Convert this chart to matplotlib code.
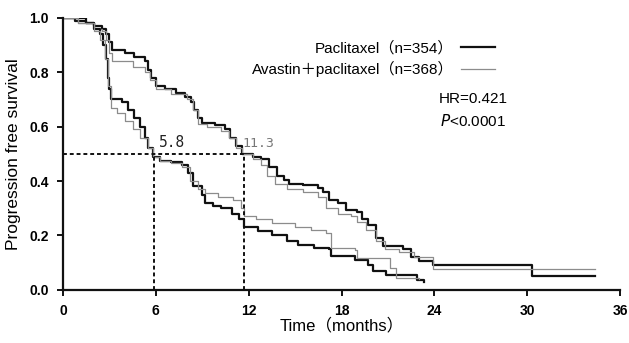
import matplotlib
matplotlib.use("Agg")
import matplotlib.pyplot as plt
from matplotlib.font_manager import FontProperties

# step curves (months, survival)
pac_t = [0, 0.8, 1.5, 2.0, 2.5, 2.8, 3.0, 3.2, 4.0, 4.6, 5.3, 5.5, 5.7, 6.0, 6.6, 7.3, 7.9,
         8.3, 8.5, 8.7, 9.0, 9.8, 10.5, 10.8, 11.2, 11.6, 12.3, 12.8, 13.3, 13.8, 14.3, 14.6,
         15.5, 16.5, 16.8, 17.2, 17.8, 18.3, 19.0, 19.3, 19.7, 20.2, 20.7, 22.0, 22.5, 23.0,
         23.9, 30.3, 34.4]
pac_s = [1.0, 0.99, 0.98, 0.97, 0.96, 0.94, 0.91, 0.88, 0.87, 0.855, 0.84, 0.81, 0.78, 0.75,
         0.74, 0.725, 0.71, 0.69, 0.66, 0.63, 0.615, 0.605, 0.59, 0.56, 0.53, 0.50, 0.49, 0.48,
         0.45, 0.42, 0.405, 0.39, 0.385, 0.375, 0.36, 0.33, 0.32, 0.295, 0.285, 0.26, 0.24,
         0.19, 0.16, 0.15, 0.12, 0.105, 0.09, 0.05, 0.05]

ava_t = [0, 1.0, 2.0, 2.5, 2.8, 3.0, 3.2, 4.5, 5.3, 5.6, 6.0, 7.0, 8.0, 8.4, 8.7, 9.3, 10.2,
         10.7, 11.2, 11.6, 12.3, 12.8, 13.2, 13.7, 14.5, 15.5, 16.5, 17.0, 17.8, 18.6, 19.0,
         19.6, 20.2, 20.8, 21.7, 22.7, 23.9, 34.4]
ava_s = [1.0, 0.98, 0.96, 0.95, 0.92, 0.87, 0.84, 0.82, 0.80, 0.77, 0.74, 0.72, 0.70, 0.66,
         0.61, 0.60, 0.585, 0.56, 0.52, 0.50, 0.48, 0.46, 0.42, 0.39, 0.37, 0.36, 0.34, 0.30,
         0.28, 0.27, 0.25, 0.22, 0.18, 0.15, 0.14, 0.12, 0.077, 0.077]

pac2_t = [0, 1.5, 2.0, 2.4, 2.6, 2.8, 2.9, 3.0, 3.1, 3.8, 4.2, 4.6, 5.0, 5.3, 5.5, 5.8, 6.3,
          7.0, 7.7, 8.1, 8.4, 9.0, 9.2, 9.7, 10.2, 10.9, 11.4, 11.7, 12.6, 13.5, 14.5, 15.2,
          16.2, 17.2, 17.3, 18.9, 19.7, 20.0, 20.9, 22.9, 23.3]
pac2_s = [1.0, 0.98, 0.96, 0.94, 0.90, 0.85, 0.78, 0.74, 0.70, 0.69, 0.66, 0.63, 0.60, 0.56,
          0.52, 0.49, 0.475, 0.47, 0.46, 0.43, 0.38, 0.35, 0.32, 0.31, 0.30, 0.28, 0.26, 0.23,
          0.215, 0.20, 0.18, 0.165, 0.155, 0.15, 0.125, 0.11, 0.09, 0.07, 0.055, 0.037, 0.03]

ava2_t = [0, 1.0, 2.0, 2.4, 2.7, 2.9, 3.1, 3.5, 4.0, 4.5, 5.0, 5.5, 5.8, 6.3, 7.0, 7.7, 8.2,
          8.7, 9.2, 10.0, 11.0, 11.5, 11.7, 12.5, 13.5, 15.0, 16.0, 17.0, 17.3, 18.9, 19.0,
          21.0, 21.1, 21.5, 23.0]
ava2_s = [1.0, 0.98, 0.95, 0.92, 0.85, 0.75, 0.67, 0.65, 0.62, 0.59, 0.56, 0.52, 0.49, 0.475,
          0.465, 0.45, 0.40, 0.37, 0.355, 0.34, 0.33, 0.30, 0.27, 0.26, 0.245, 0.23, 0.22,
          0.21, 0.155, 0.147, 0.118, 0.118, 0.08, 0.045, 0.04]

medians = [5.9, 11.7]
median_labels = ["5.8", "11.3"]
legend_labels = ["Paclitaxel（n=354）", "Avastin＋paclitaxel（n=368）"]
x_ticks = [0, 6, 12, 18, 24, 30, 36]
y_ticks = [0.0, 0.2, 0.4, 0.6, 0.8, 1.0]

BLACK = "#111111"
GRAY = "#8c8c8c"
fams = ["Liberation Sans", "Noto Sans CJK JP"]

fig = plt.figure(figsize=(6.29, 3.43), dpi=100)
ax = fig.add_axes([0.100, 0.155, 0.886, 0.793])

l1, = ax.plot(pac_t, pac_s, drawstyle="steps-post", color=BLACK, lw=1.6)
l2, = ax.plot(ava_t, ava_s, drawstyle="steps-post", color=GRAY, lw=0.9)
ax.plot(pac2_t, pac2_s, drawstyle="steps-post", color=BLACK, lw=1.6)
ax.plot(ava2_t, ava2_s, drawstyle="steps-post", color=GRAY, lw=0.9)

# median guides
ax.plot([0, medians[1]], [0.5, 0.5], color=BLACK, lw=1.4, ls=(0, (2, 1.5)))
for m in medians:
    ax.plot([m, m], [0, 0.5], color=BLACK, lw=1.4, ls=(0, (2, 1.5)))
ax.text(medians[0] + 0.3, 0.515, median_labels[0], fontsize=10.5, color="#222222",
        family="DejaVu Sans Mono", ha="left", va="bottom")
ax.text(medians[1] - 0.1, 0.515, median_labels[1], fontsize=9.5, color="#777777",
        family="DejaVu Sans Mono", ha="left", va="bottom")

ax.set_xlim(0, 36)
ax.set_ylim(0, 1.0)
ax.set_xticks(x_ticks)
ax.set_yticks(y_ticks)
ax.set_xticklabels([str(v) for v in x_ticks], fontweight="bold", fontsize=10,
                   family="Liberation Sans")
ax.set_yticklabels([f"{v:.1f}" for v in y_ticks], fontweight="bold", fontsize=10,
                   family="Liberation Sans")
for s in ["top", "right"]:
    ax.spines[s].set_visible(False)
for s in ["left", "bottom"]:
    ax.spines[s].set_linewidth(1.6)
    ax.spines[s].set_color(BLACK)
ax.tick_params(direction="out", length=4, width=1.4, color=BLACK, pad=6)

ax.set_ylabel("Progression free survival", fontsize=12.5, family=fams, labelpad=6)
ax.set_xlabel("Time（months）", fontsize=12, family=fams, labelpad=0)

prop = FontProperties(family=fams, size=11)
ax.legend([l1, l2], legend_labels, prop=prop, markerfirst=False, frameon=False,
          handlelength=2.2, handletextpad=0.5, labelspacing=0.35,
          loc="upper right", bbox_to_anchor=(0.80, 0.965))

ax.text(0.675, 0.70, "HR=0.421", transform=ax.transAxes, fontsize=11,
        family=fams, ha="left", va="center")
ax.text(0.677, 0.62, "$\\it{P}$<0.0001", transform=ax.transAxes, fontsize=11,
        family=fams, ha="left", va="center")

fig.savefig("out.png", dpi=100)
